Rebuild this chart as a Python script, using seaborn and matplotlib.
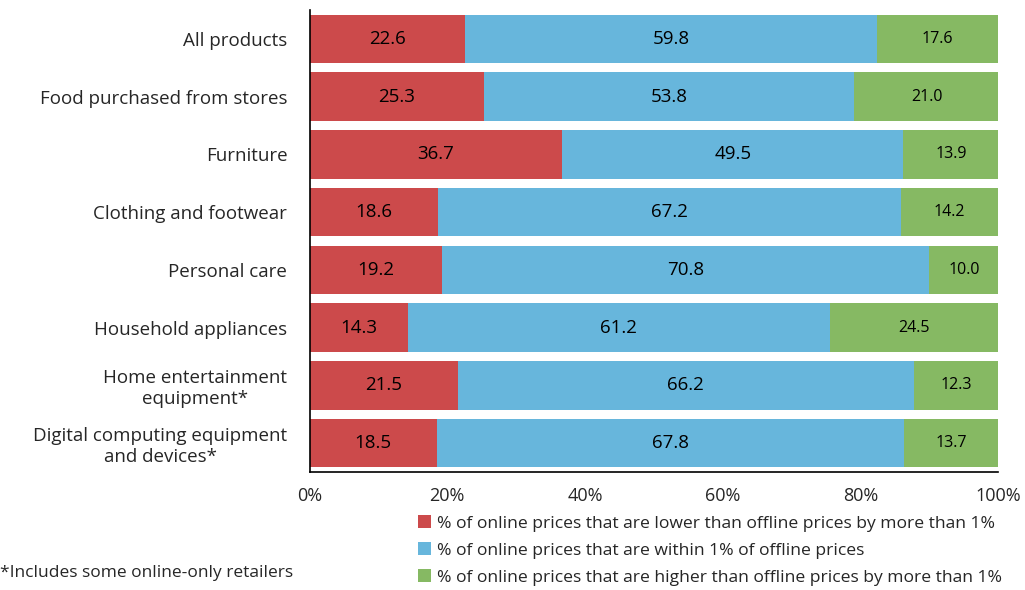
import matplotlib
matplotlib.use("Agg")
import matplotlib.pyplot as plt
import seaborn as sns
import pandas as pd
import numpy as np
from matplotlib.patches import Patch

categories = [
    "All products",
    "Food purchased from stores",
    "Furniture",
    "Clothing and footwear",
    "Personal care",
    "Household appliances",
    "Home entertainment\nequipment*",
    "Digital computing equipment\nand devices*",
]
lower = [22.6, 25.3, 36.7, 18.6, 19.2, 14.3, 21.5, 18.5]
within = [59.8, 53.8, 49.5, 67.2, 70.8, 61.2, 66.2, 67.8]
higher = [17.6, 21.0, 13.9, 14.2, 10.0, 24.5, 12.3, 13.7]

series_names = [
    "% of online prices that are lower than offline prices by more than 1%",
    "% of online prices that are within 1% of offline prices",
    "% of online prices that are higher than offline prices by more than 1%",
]
colors = ["#CC4A4B", "#67B6DC", "#86B963"]

df = pd.DataFrame({"cat": categories, "lower": lower, "within": within, "higher": higher})
df["c1"] = df["lower"]
df["c2"] = df["lower"] + df["within"]
df["c3"] = df["c2"] + df["higher"]

sns.set_style("white")
plt.rcParams["font.family"] = ["Open Sans", "DejaVu Sans"]

fig = plt.figure(figsize=(10.25, 5.9), dpi=100)
ax = fig.add_axes([0.302, 0.2, 0.672, 0.783])

# stacked by drawing cumulative totals back to front
for col, c in zip(["c3", "c2", "c1"], colors[::-1]):
    sns.barplot(data=df, x=col, y="cat", color=c, width=0.84, ax=ax,
                saturation=1, orient="h", linewidth=0)

# segment labels
for i, row in df.iterrows():
    ax.text(row["lower"] / 2, i, f"{row['lower']:.1f}", ha="center", va="center",
            fontsize=13.5, color="black")
    ax.text(row["c1"] + row["within"] / 2, i, f"{row['within']:.1f}", ha="center",
            va="center", fontsize=13.5, color="black")
    ax.text(row["c2"] + row["higher"] / 2, i, f"{row['higher']:.1f}", ha="center",
            va="center", fontsize=11.5, color="black")

ax.set_xlim(0, 100)
ax.set_ylim(len(categories) - 0.5, -0.5)
ax.set_xticks([0, 20, 40, 60, 80, 100])
ax.set_xticklabels(["0%", "20%", "40%", "60%", "80%", "100%"], fontsize=13)
ax.set_yticks(range(len(categories)))
ax.set_yticklabels(categories, fontsize=13.5, multialignment="center")
ax.set_yticks(np.arange(-0.5, len(categories), 1), minor=True)
ax.tick_params(axis="y", which="major", length=0, pad=16)
ax.tick_params(axis="y", which="minor", length=5, direction="in", width=1.2, color="black")
ax.tick_params(axis="x", which="major", length=5, direction="in", width=1.2, color="black", pad=11)
ax.set_xlabel("")
ax.set_ylabel("")
for s in ["top", "right"]:
    ax.spines[s].set_visible(False)
for s in ["left", "bottom"]:
    ax.spines[s].set_color("black")
    ax.spines[s].set_linewidth(1.2)

handles = [Patch(facecolor=c, edgecolor="none") for c in colors]
fig.legend(handles, series_names, loc="upper left", bbox_to_anchor=(0.408, 0.127),
           frameon=False, fontsize=12.6, handlelength=0.75, handleheight=0.75,
           handletextpad=0.3, labelspacing=0.6, borderaxespad=0, borderpad=0)

fig.text(0.0, 0.028, "*Includes some online-only retailers", fontsize=12.5, ha="left", va="center")

fig.savefig("out.png", dpi=100)
